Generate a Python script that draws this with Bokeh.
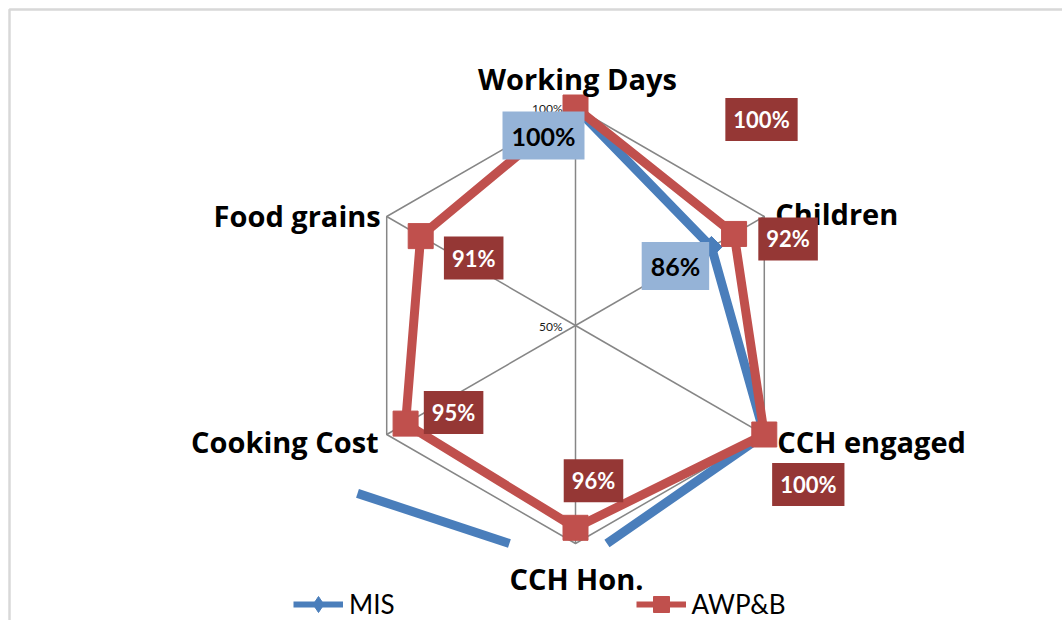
import math
from bokeh.plotting import figure
from bokeh.models import Range1d, Label, Legend, LegendItem, BoxAnnotation
from bokeh.embed import file_html
from bokeh.resources import INLINE

# ---------------- data ----------------
categories = ["Working Days", "Children", "CCH engaged", "CCH Hon.", "Cooking Cost", "Food grains"]
series_names = ["MIS", "AWP&B"]
mis_values = [1.00, 0.86, 1.00, 1.05, 1.20, 1.60]
awpb_values = [1.00, 0.92, 1.00, 0.964, 0.95, 0.91]
tick_values = [0.5, 1.0]
tick_labels = ["50%", "100%"]
mis_labelled = [0, 1]                 # categories whose MIS data label is shown
awpb_labelled = [0, 1, 2, 3, 4, 5]

# ---------------- layout / style ----------------
W, H = 1062, 620
PX = 218.0                 # pixels per unit radius
CX, CY = 575, 325          # centre of radar in canvas pixels
AX_MIN, AX_MAX = 0.5, 1.0
CLIP = (-1.0, 1.0, -1.0, 1.0)   # plot-area square (xmin, xmax, ymin, ymax)

BLUE = "#4A7EBB"
RED = "#C0504D"
DARKRED = "#953735"
LIGHTBLUE = "#95B3D7"
GRID = "#868686"
FONT = "Lato"
CAT_FONT = "Open Sans"

# label offsets (pixels) relative to anchor points
cat_offsets = [(2, 29, "center"), (11, 3, "left"), (13, -7, "left"),
               (1, -35, "center"), (-8, -7, "right"), (-6, 1, "right")]
mis_lab_off = {0: (-32, -28), 1: (-36, -19)}
awpb_lab_off = {0: (186, -12), 1: (54, -5), 2: (44, -50), 3: (18, 47), 4: (48, 11), 5: (53, -22)}

p = figure(width=W, height=H, output_backend="svg", toolbar_location=None,
           x_range=Range1d(-CX / PX, (W - CX) / PX),
           y_range=Range1d(-(H - CY) / PX, CY / PX),
           min_border=0, outline_line_color=None, background_fill_color="white",
           border_fill_color="white")
p.axis.visible = False
p.grid.visible = False


def angle(i):
    return math.radians(90 - 360.0 / len(categories) * i)


def to_xy(v, i):
    r = (v - AX_MIN) / (AX_MAX - AX_MIN)
    return r * math.cos(angle(i)), r * math.sin(angle(i))


def clip_seg(a, b):
    xmin, xmax, ymin, ymax = CLIP
    x0, y0 = a
    dx, dy = b[0] - x0, b[1] - y0
    t0, t1 = 0.0, 1.0
    for pp, q in ((-dx, x0 - xmin), (dx, xmax - x0), (-dy, y0 - ymin), (dy, ymax - y0)):
        if abs(pp) < 1e-12:
            if q < -1e-12:
                return None
        else:
            t = q / pp
            if pp < 0:
                if t > t1:
                    return None
                t0 = max(t0, t)
            else:
                if t < t0:
                    return None
                t1 = min(t1, t)
    if t1 - t0 < 1e-9:
        return None
    return t0, t1


def clipped_runs(pts):
    runs, cur = [], None
    closed = pts + [pts[0]]
    for a, b in zip(closed[:-1], closed[1:]):
        res = clip_seg(a, b)
        if res is None:
            if cur:
                runs.append(cur)
            cur = None
            continue
        t0, t1 = res
        s = (a[0] + t0 * (b[0] - a[0]), a[1] + t0 * (b[1] - a[1]))
        e = (a[0] + t1 * (b[0] - a[0]), a[1] + t1 * (b[1] - a[1]))
        if cur is not None and t0 == 0.0:
            cur.append(e)
        else:
            if cur:
                runs.append(cur)
            cur = [s, e]
        if t1 < 1.0:
            runs.append(cur)
            cur = None
    if cur:
        runs.append(cur)
    return runs


def inside(pt):
    xmin, xmax, ymin, ymax = CLIP
    return xmin - 1e-9 <= pt[0] <= xmax + 1e-9 and ymin - 1e-9 <= pt[1] <= ymax + 1e-9


# ---------------- grid ----------------
n = len(categories)
outer = [to_xy(AX_MAX, i) for i in range(n)]
p.line([q[0] for q in outer] + [outer[0][0]], [q[1] for q in outer] + [outer[0][1]],
       line_color=GRID, line_width=1.5)
for i in range(n):
    c = to_xy(AX_MIN, i)
    o = to_xy(AX_MAX, i)
    p.line([c[0], o[0]], [c[1], o[1]], line_color=GRID, line_width=1.5)

# ---------------- series ----------------
def draw_series(vals, color, marker, msize, ang):
    pts = [to_xy(v, i) for i, v in enumerate(vals)]
    runs = clipped_runs(pts)
    p.multi_line([[q[0] for q in r] for r in runs], [[q[1] for q in r] for r in runs],
                 line_color=color, line_width=9, line_join="round")
    vis = [q for q in pts if inside(q)]
    p.scatter([q[0] for q in vis], [q[1] for q in vis], marker=marker, size=msize,
              angle=ang, fill_color=color, line_color=color)
    return pts


mis_pts = draw_series(mis_values, BLUE, "square", 15, math.pi / 4)
awpb_pts = draw_series(awpb_values, RED, "square", 25, 0.0)

# ---------------- category labels ----------------
for i, cat in enumerate(categories):
    x, y = to_xy(AX_MAX, i)
    dx, dy, al = cat_offsets[i]
    p.add_layout(Label(x=x, y=y, x_offset=dx, y_offset=dy, text=cat, text_align=al,
                       text_baseline="middle", text_font=CAT_FONT, text_font_style="bold",
                       text_font_size="29px", text_color="black"))

# ---------------- radial tick labels ----------------
for tv, tl in zip(tick_values, tick_labels):
    x, y = to_xy(tv, 0)
    p.add_layout(Label(x=x, y=y, x_offset=-13, y_offset=-1, text=tl, text_align="right",
                       text_baseline="middle", text_font=FONT,
                       text_font_size="12px", text_color="#1a1a1a"))

# ---------------- data labels ----------------
for i in mis_labelled:
    x, y = mis_pts[i]
    dx, dy = mis_lab_off[i]
    p.add_layout(Label(x=x, y=y, x_offset=dx, y_offset=dy,
                       text=f"{round(mis_values[i] * 100)}%", text_align="center",
                       text_baseline="middle", text_font=FONT, text_font_style="bold",
                       text_font_size="25px", text_color="black",
                       background_fill_color=LIGHTBLUE, padding=9))
for i in awpb_labelled:
    x, y = awpb_pts[i]
    dx, dy = awpb_lab_off[i]
    p.add_layout(Label(x=x, y=y, x_offset=dx, y_offset=dy,
                       text=f"{round(awpb_values[i] * 100)}%", text_align="center",
                       text_baseline="middle", text_font=FONT, text_font_style="bold",
                       text_font_size="22px", text_color="white",
                       background_fill_color=DARKRED, padding=8))

# ---------------- legend ----------------
nan = float("nan")
l1 = p.line([nan], [nan], line_color=BLUE, line_width=6)
s1 = p.scatter([nan], [nan], marker="diamond", fill_color=BLUE, line_color=BLUE, size=17)
l2 = p.line([nan], [nan], line_color=RED, line_width=6)
s2 = p.scatter([nan], [nan], marker="square", fill_color=RED, line_color=RED, size=16)
legend = Legend(items=[LegendItem(label=series_names[0], renderers=[l1, s1]),
                       LegendItem(label=series_names[1], renderers=[l2, s2])],
                orientation="horizontal", location=(293, -4), glyph_width=50, glyph_height=40,
                label_standoff=6, spacing=241, padding=0, margin=0,
                border_line_color=None, background_fill_alpha=0,
                label_text_font=FONT, label_text_font_size="26px", label_text_color="black")
p.add_layout(legend)

# ---------------- chart border (top and left only) ----------------
p.add_layout(BoxAnnotation(left=p.x_range.start + 9.0 / PX, right=p.x_range.end + 10.0 / PX,
                           top=p.y_range.end - 9.0 / PX, bottom=p.y_range.start - 10.0 / PX,
                           fill_alpha=0, line_color="#7f7f7f", line_width=2.5, level="underlay"))

open("out.html", "w").write(file_html(p, INLINE))
